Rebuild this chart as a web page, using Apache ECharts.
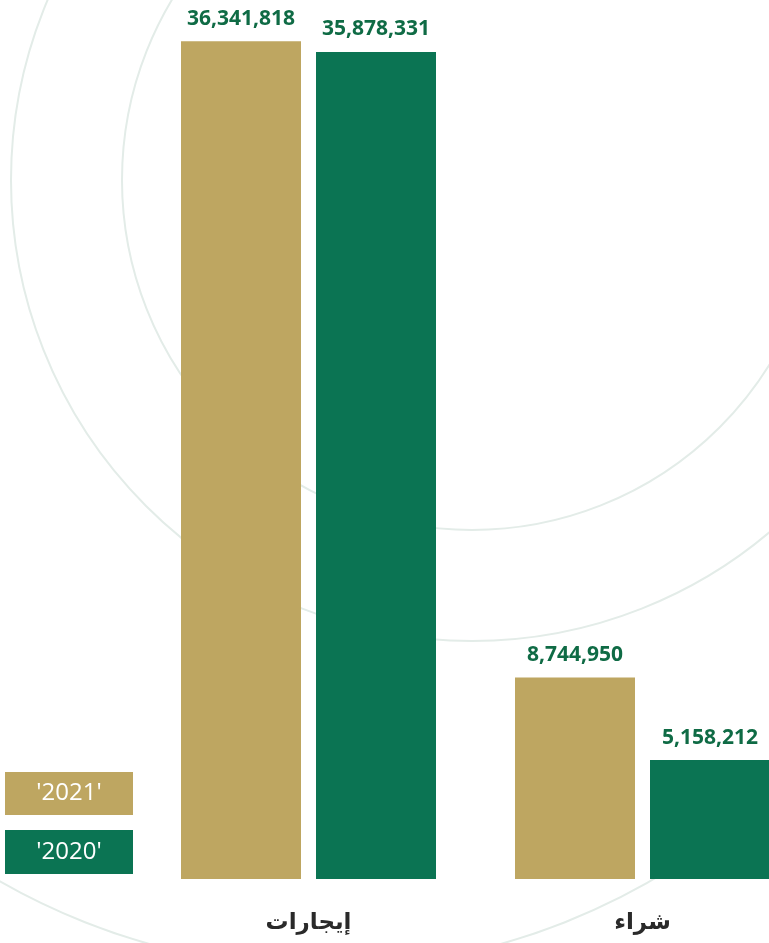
<!DOCTYPE html>
<html>
<head>
<meta charset="utf-8">
<script src="https://cdn.jsdelivr.net/npm/echarts@6/dist/echarts.min.js"></script>
<style>
html,body{margin:0;padding:0;background:#fff;}
#chart{width:769px;height:943px;}
</style>
</head>
<body>
<div id="chart"></div>
<script>
const categories = ['إيجارات', 'شراء'];
const seriesNames = ['2021', '2020'];
const values2021 = [36341818, 8744950];
const values2020 = [35878331, 5158212];

const GOLD = '#BEA661';
const GREEN = '#0B7453';
const LABEL = '#0F6B45';
const RING = '#E3ECE8';

const chart = echarts.init(document.getElementById('chart'), null, {renderer: 'canvas'});

const labelCfg = {
  show: true,
  position: 'top',
  distance: 12,
  color: LABEL,
  fontFamily: 'Open Sans',
  fontWeight: 'bold',
  fontSize: 21,
  formatter: p => Number(p.value).toLocaleString('en-US')
};

chart.setOption({
  animation: false,
  backgroundColor: '#ffffff',
  graphic: [
    {type: 'circle', z: 0, silent: true, shape: {cx: 472, cy: 180, r: 350}, style: {fill: 'none', stroke: RING, lineWidth: 2}},
    {type: 'circle', z: 0, silent: true, shape: {cx: 472, cy: 180, r: 461}, style: {fill: 'none', stroke: RING, lineWidth: 2}},
    {type: 'circle', z: 0, silent: true, shape: {cx: 325, cy: 316, r: 652}, style: {fill: 'none', stroke: RING, lineWidth: 2}}
  ],
  legend: {
    orient: 'vertical',
    left: 0,
    top: 772,
    padding: 0,
    itemWidth: 0,
    itemHeight: 0,
    itemGap: 15,
    icon: 'rect',
    selectedMode: false,
    data: seriesNames,
    formatter: name => '{y' + name + "|'" + name + "'}",
    textStyle: {
      rich: {
        y2021: {backgroundColor: GOLD, color: '#fff', width: 128, height: 43, align: 'center', verticalAlign: 'middle', fontSize: 24, fontFamily: 'Open Sans', lineHeight: 43},
        y2020: {backgroundColor: GREEN, color: '#fff', width: 128, height: 44, align: 'center', verticalAlign: 'middle', fontSize: 24, fontFamily: 'Open Sans', lineHeight: 44}
      }
    }
  },
  grid: {left: 141.5, width: 668, top: 3, bottom: 64, containLabel: false, outerBoundsMode: 'none'},
  xAxis: {
    type: 'category',
    data: categories,
    axisLine: {show: false},
    axisTick: {show: false},
    axisLabel: {
      margin: 33,
      color: '#2a2a2a',
      fontFamily: 'DejaVu Sans',
      fontWeight: 'bold',
      fontSize: 23
    }
  },
  yAxis: {
    type: 'value',
    min: 0,
    max: 38000000,
    show: false,
    splitLine: {show: false}
  },
  series: [
    {name: seriesNames[0], type: 'bar', data: values2021, barWidth: 120, barGap: '12.5%', itemStyle: {color: GOLD}, label: labelCfg, z: 2},
    {name: seriesNames[1], type: 'bar', data: values2020, barWidth: 120, barGap: '12.5%', itemStyle: {color: GREEN}, label: labelCfg, z: 2}
  ]
});
</script>
</body>
</html>
